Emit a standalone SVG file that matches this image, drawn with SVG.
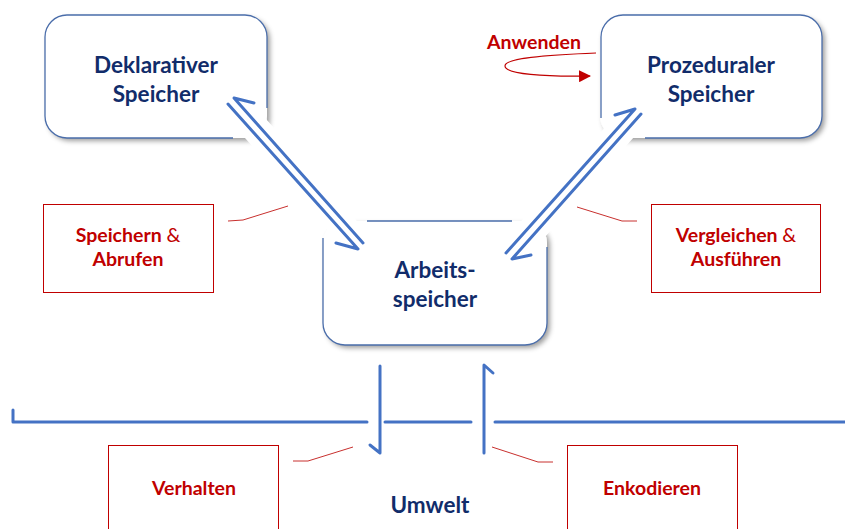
<svg xmlns="http://www.w3.org/2000/svg" width="845" height="529" viewBox="0 0 845 529">
  <defs>
    <filter id="shadow" x="-10%" y="-10%" width="125%" height="130%">
      <feDropShadow dx="3" dy="3" stdDeviation="2.5" flood-color="#000" flood-opacity="0.38"/>
    </filter>
    <marker id="redHead" viewBox="0 0 12 12" refX="11" refY="6" markerWidth="12" markerHeight="12" markerUnits="userSpaceOnUse" orient="auto">
      <path d="M0,0 L12,6 L0,12 Z" fill="#C00000"/>
    </marker>
  </defs>
  <style>
    .card { fill: #fff; filter: url(#shadow); }
    .edge { fill: none; stroke: #4A6DAA; stroke-width: 1.3; }
    .title { font-family: Lato, "Open Sans", sans-serif; font-weight: bold; font-size: 22.5px; fill: #112C6A; text-anchor: middle; }
    .tag { fill: #fff; stroke: #C00000; stroke-width: 1; }
    .tagText { font-family: Lato, "Open Sans", sans-serif; font-weight: bold; font-size: 19.5px; fill: #C00000; text-anchor: middle; }
    .amp { font-weight: normal; }
    .lead { fill: none; stroke: #C8302E; stroke-width: 1; }
    .halo { fill: none; stroke: #fff; stroke-width: 20; stroke-linecap: butt; stroke-linejoin: round; }
    .flow { fill: none; stroke: #4472C4; stroke-width: 3; stroke-linecap: round; stroke-linejoin: round; }
  </style>

  <!-- memory stores -->
  <g id="deklarativ">
    <rect class="card" x="45" y="15" width="222" height="123" rx="22"/>
    <path class="edge" d="M233,138 H67 A22,22 0 0 1 45,116 V37 A22,22 0 0 1 67,15 H245 A22,22 0 0 1 267,37 V108"/>
    <text class="title" x="156" y="73">Deklarativer</text>
    <text class="title" x="156" y="102">Speicher</text>
  </g>

  <g id="prozedural">
    <rect class="card" x="600" y="15" width="222" height="123" rx="22"/>
    <path class="edge" d="M601,118 V37 A22,22 0 0 1 623,15 H800 A22,22 0 0 1 822,37 V116 A22,22 0 0 1 800,138 H645"/>
    <text class="title" x="711" y="73">Prozeduraler</text>
    <text class="title" x="711" y="102">Speicher</text>
  </g>

  <g id="arbeit">
    <rect class="card" x="323" y="221" width="224" height="124" rx="22"/>
    <path class="edge" d="M323,238 V323 A22,22 0 0 0 345,345 H525 A22,22 0 0 0 547,323 V247 M367,221 H512"/>
    <text class="title" x="435" y="278">Arbeits-</text>
    <text class="title" x="435" y="307">speicher</text>
  </g>

  <g id="umwelt">
    <text class="title" x="430" y="513">Umwelt</text>
  </g>

  <!-- process labels -->
  <g id="speichern">
    <rect class="tag" x="43.5" y="204.5" width="170" height="88"/>
    <text class="tagText" x="128" y="242">Speichern <tspan class="amp">&amp;</tspan></text>
    <text class="tagText" x="128" y="266">Abrufen</text>
  </g>

  <g id="vergleichen">
    <rect class="tag" x="651.5" y="204.5" width="169" height="88"/>
    <text class="tagText" x="736" y="242">Vergleichen <tspan class="amp">&amp;</tspan></text>
    <text class="tagText" x="736" y="266">Ausführen</text>
  </g>

  <g id="verhalten">
    <rect class="tag" x="108.5" y="445.5" width="170" height="100"/>
    <text class="tagText" x="194" y="495">Verhalten</text>
  </g>

  <g id="enkodieren">
    <rect class="tag" x="567.5" y="445.5" width="170" height="100"/>
    <text class="tagText" x="652" y="495">Enkodieren</text>
  </g>

  <g id="anwenden">
    <text class="tagText" x="534" y="49">Anwenden</text>
  </g>

  <!-- connectors -->
  <g id="connectors">
    <!-- leader lines from labels to flows -->
    <polyline class="lead" points="228,221 243,220 288,206"/>
    <polyline class="lead" points="577,207 622,221 637,221"/>
    <polyline class="lead" points="293,461 308,461 353,447"/>
    <polyline class="lead" points="492,447 538,462 553,462"/>

    <!-- self loop on the procedural store -->
    <path d="M596,53 C545,55 505,58 505,66 C505,74 545,77 590,76" fill="none" stroke="#C00000" stroke-width="1.2" marker-end="url(#redHead)"/>

    <!-- declarative <-> working memory -->
    <path class="halo" d="M234,98 L254,103 M234,98 L363,243 M228,104 L358,249 L336,243"/>
    <path class="flow" d="M254,103 L234,98 L363,243 M228,104 L358,249 L336,243"/>

    <!-- procedural <-> working memory -->
    <path class="halo" d="M615,115 L635,109 L506,253 M641,114 L512,259 L531,255"/>
    <path class="flow" d="M615,115 L635,109 L506,253 M641,114 L512,259 L531,255"/>

    <!-- environment boundary -->
    <path class="flow" d="M13,410 V422 H367 M385,422 H471 M495,422 H845"/>
    <!-- action out, perception in -->
    <path class="flow" d="M380,366 V453 L370,445"/>
    <path class="flow" d="M484,453 V365 L493,373"/>
  </g>
</svg>
